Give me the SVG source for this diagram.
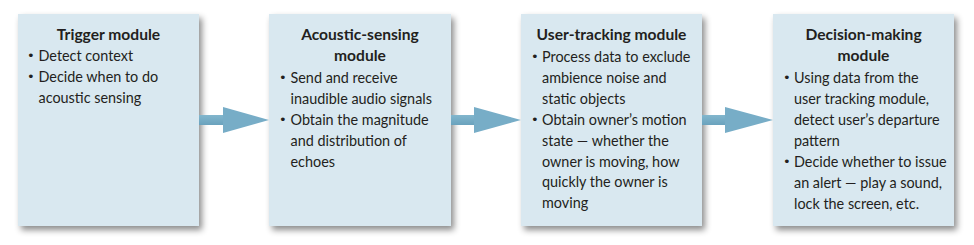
<svg xmlns="http://www.w3.org/2000/svg" width="974" height="245" viewBox="0 0 974 245">
<defs>
<filter id="sh" x="-10%" y="-10%" width="130%" height="130%">
<feDropShadow dx="3" dy="4" stdDeviation="3" flood-color="#000" flood-opacity="0.45"/>
</filter>
<linearGradient id="shaft" x1="0" y1="0" x2="0" y2="1">
<stop offset="0" stop-color="#82b6cd"/>
<stop offset="1" stop-color="#6aa2bd"/>
</linearGradient>
</defs>
<style>
.box{fill:#d9e8f0;filter:url(#sh)}
.t{font-family:Lato,"Liberation Sans",sans-serif;font-size:14.4px;fill:#231f20}
.b{font-family:"DejaVu Sans",sans-serif;font-size:13px}
.h{font-weight:bold;font-size:15.6px;text-anchor:middle}
.arrow{fill:#77adc7}
.sh{fill:url(#shaft)}
</style>
<rect width="974" height="245" fill="#fff"/>
<g id="trigger">
<rect class="box" x="18" y="14" width="181" height="212"/>
<text class="t h" x="108.5" y="40">Trigger module</text>
<text class="t b" x="27" y="60">•</text><text class="t" x="38.5" y="61">Detect context</text>
<text class="t b" x="27" y="81">•</text><text class="t" x="38.5" y="82">Decide when to do</text>
<text class="t" x="38.5" y="103">acoustic sensing</text>
</g>
<g id="acoustic">
<rect class="box" x="269" y="14" width="182" height="212"/>
<text class="t h" x="360" y="40">Acoustic-sensing</text>
<text class="t h" x="360" y="61">module</text>
<text class="t b" x="279" y="82">•</text><text class="t" x="290.5" y="83">Send and receive</text>
<text class="t" x="290.5" y="104">inaudible audio signals</text>
<text class="t b" x="279" y="124">•</text><text class="t" x="290.5" y="125">Obtain the magnitude</text>
<text class="t" x="290.5" y="146">and distribution of</text>
<text class="t" x="290.5" y="167">echoes</text>
</g>
<g id="tracking">
<rect class="box" x="521" y="14" width="181" height="212"/>
<text class="t h" x="611.5" y="40">User-tracking module</text>
<text class="t b" x="531" y="61">•</text><text class="t" x="542" y="62">Process data to exclude</text>
<text class="t" x="542" y="83">ambience noise and</text>
<text class="t" x="542" y="104">static objects</text>
<text class="t b" x="531" y="124">•</text><text class="t" x="542" y="125">Obtain owner’s motion</text>
<text class="t" x="542" y="146">state — whether the</text>
<text class="t" x="542" y="167">owner is moving, how</text>
<text class="t" x="542" y="187">quickly the owner is</text>
<text class="t" x="542" y="208">moving</text>
</g>
<g id="decision">
<rect class="box" x="773" y="14" width="181" height="212"/>
<text class="t h" x="863.5" y="40">Decision-making</text>
<text class="t h" x="863.5" y="61">module</text>
<text class="t b" x="783" y="82">•</text><text class="t" x="794" y="83">Using data from the</text>
<text class="t" x="794" y="104">user tracking module,</text>
<text class="t" x="794" y="125">detect user’s departure</text>
<text class="t" x="794" y="146">pattern</text>
<text class="t b" x="783" y="166">•</text><text class="t" x="794" y="167">Decide whether to issue</text>
<text class="t" x="794" y="188">an alert — play a sound,</text>
<text class="t" x="794" y="209">lock the screen, etc.</text>
</g>
<g id="connectors">
<rect class="sh" x="199" y="115" width="25" height="10"/>
<polygon class="arrow" points="223,107 269,120 223,133"/>
<rect class="sh" x="451" y="115" width="24" height="10"/>
<polygon class="arrow" points="474,107 521,120 474,133"/>
<rect class="sh" x="702" y="115" width="24" height="10"/>
<polygon class="arrow" points="725,107 773,120 725,133"/>
</g>
</svg>
